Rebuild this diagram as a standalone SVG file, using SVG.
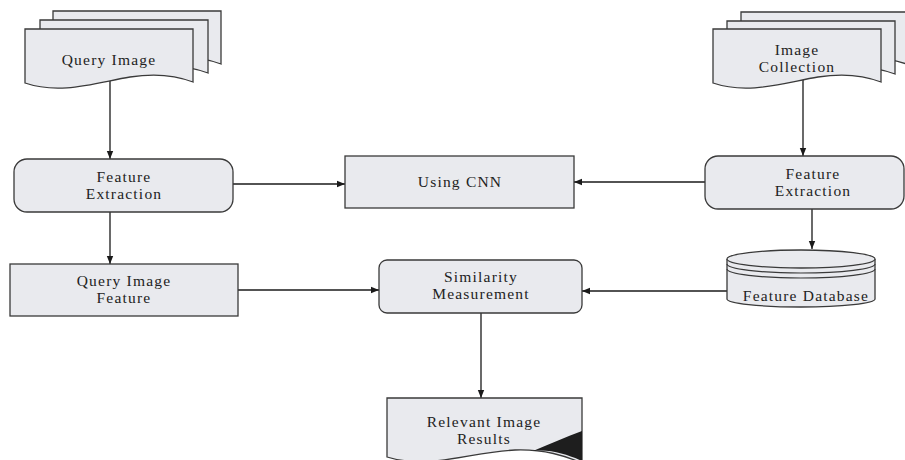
<svg xmlns="http://www.w3.org/2000/svg" width="905" height="460" viewBox="0 0 905 460">
<style>
  .shape { fill: #e9eaee; stroke: #3a3a3a; stroke-width: 1.3; }
  .line { fill: none; stroke: #1a1a1a; stroke-width: 1.3; }
  .ring { fill: none; stroke: #3a3a3a; stroke-width: 1.2; }
  text { font-family: "Liberation Serif", "Times New Roman", serif; font-size: 15.5px; fill: #222; text-anchor: middle; letter-spacing: 1.2px; }
</style>
<defs>
  <path id="doc" d="M0,0 H168 V53 C150,46 130,44 105,48 C70,54 35,66 0,54 Z"/>
  <marker id="arr" viewBox="0 0 10 10" refX="10" refY="5" markerWidth="8" markerHeight="8" markerUnits="userSpaceOnUse" orient="auto">
    <path d="M0,1 L10,5 L0,9 Z" fill="#1a1a1a"/>
  </marker>
</defs>
<rect width="905" height="460" fill="#ffffff"/>

<g id="connectors">
  <line class="line" x1="110" y1="79" x2="110" y2="159" marker-end="url(#arr)"/>
  <line class="line" x1="233" y1="184" x2="345" y2="184" marker-end="url(#arr)"/>
  <line class="line" x1="705" y1="182" x2="574" y2="182" marker-end="url(#arr)"/>
  <line class="line" x1="110" y1="212" x2="110" y2="264" marker-end="url(#arr)"/>
  <line class="line" x1="238" y1="290" x2="379" y2="290" marker-end="url(#arr)"/>
  <line class="line" x1="728" y1="291" x2="582" y2="291" marker-end="url(#arr)"/>
  <line class="line" x1="803" y1="80" x2="803" y2="156" marker-end="url(#arr)"/>
  <line class="line" x1="812" y1="209" x2="812" y2="249" marker-end="url(#arr)"/>
  <line class="line" x1="481" y1="313" x2="481" y2="398" marker-end="url(#arr)"/>
</g>

<g id="query-image">
  <use href="#doc" class="shape" transform="translate(53,11)"/>
  <use href="#doc" class="shape" transform="translate(40,20)"/>
  <use href="#doc" class="shape" transform="translate(25,29)"/>
  <text x="109" y="65">Query Image</text>
</g>

<g id="image-collection">
  <use href="#doc" class="shape" transform="translate(741,12)"/>
  <use href="#doc" class="shape" transform="translate(727,21)"/>
  <use href="#doc" class="shape" transform="translate(713,29)"/>
  <text x="797" y="55">Image</text>
  <text x="797" y="72">Collection</text>
</g>

<g id="feature-extraction-left">
  <rect class="shape" x="14" y="159" width="219" height="53" rx="13"/>
  <text x="124" y="182">Feature</text>
  <text x="124" y="199">Extraction</text>
</g>

<g id="using-cnn">
  <rect class="shape" x="345" y="156" width="229" height="52"/>
  <text x="460" y="187">Using CNN</text>
</g>

<g id="feature-extraction-right">
  <rect class="shape" x="705" y="156" width="199" height="53" rx="13"/>
  <text x="813" y="179">Feature</text>
  <text x="813" y="196">Extraction</text>
</g>

<g id="query-image-feature">
  <rect class="shape" x="10" y="264" width="228" height="52"/>
  <text x="124" y="286">Query Image</text>
  <text x="124" y="303">Feature</text>
</g>

<g id="similarity-measurement">
  <rect class="shape" x="379" y="260" width="203" height="53" rx="8"/>
  <text x="481" y="282">Similarity</text>
  <text x="481" y="299">Measurement</text>
</g>

<g id="feature-database">
  <path class="shape" d="M727,259 V299 A74,8 0 0 0 875,299 V259"/>
  <ellipse class="shape" cx="801" cy="259" rx="74" ry="9"/>
  <path class="ring" d="M727,264 A74,9 0 0 0 875,264"/>
  <path class="ring" d="M727,269 A74,9 0 0 0 875,269"/>
  <text x="806" y="301">Feature Database</text>
</g>

<g id="relevant-image-results">
  <path class="shape" d="M387,398 H582 V463 C565,456 545,449 515,450 C470,452 430,470 387,457 Z"/>
  <path d="M582,431 C565,437 550,444 533,451 C552,449 568,455 582,461 Z" fill="#1e1e1e"/>
  <text x="484" y="427">Relevant Image</text>
  <text x="484" y="444">Results</text>
</g>
</svg>
